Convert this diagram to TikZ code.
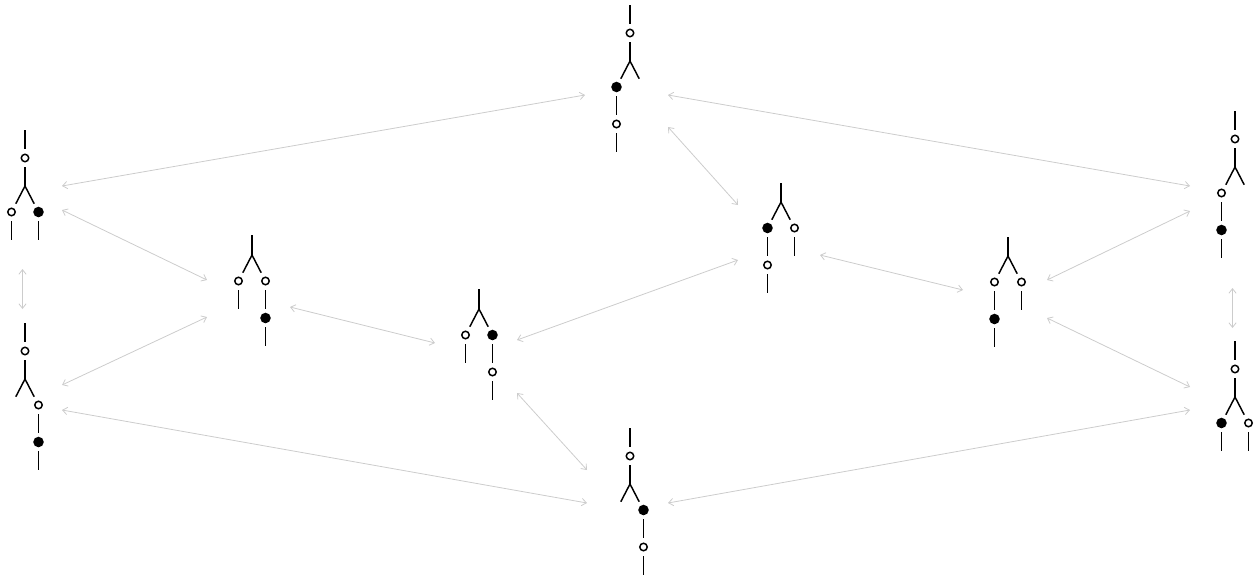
\documentclass[tikz,border=0pt]{standalone}
\usetikzlibrary{arrows.meta}
\tikzset{
  wire/.style={line width=1.1pt, black},
  oc/.style={circle, draw=black, line width=1.1pt, minimum size=5.6pt, inner sep=0pt, outer sep=4.2pt},
  fc/.style={circle, fill=black, minimum size=7.9pt, inner sep=0pt, outer sep=3.06pt},
  gh/.style={circle, minimum size=5.6pt, inner sep=0pt, outer sep=4.2pt},
  link/.style={{Straight Barb[length=3.5pt,width=5.5pt]}-{Straight Barb[length=3.5pt,width=5.5pt]}, draw=gray!40, line width=0.6pt},
}
\begin{document}
\begin{tikzpicture}[x=0.75pt, y=-0.75pt]
\useasboundingbox (0,0) rectangle (1257,579);

% ---------- Top diagram
\coordinate (T0) at (630,5);
\node[oc] (T1) at (630,33) {};
\coordinate (Tb) at (630,61);
\node[fc] (TL) at (616.5,87) {};
\node[oc] (TL2) at (616.5,124) {};
\coordinate (TL3) at (616.5,152);
\node[gh] (TR) at (643.5,87) {};
\draw[wire] (T0) -- (T1); \draw[wire] (T1) -- (Tb);
\draw[wire] (Tb) -- (TL); \draw[wire] (Tb) -- (TR);
\draw[wire] (TL) -- (TL2); \draw[wire] (TL2) -- (TL3);

% ---------- Left 1
\coordinate (A0) at (25,130);
\node[oc] (A1) at (25,158) {};
\coordinate (Ab) at (25,186);
\node[oc] (AL) at (11.5,212) {};
\node[fc] (AR) at (38.5,212) {};
\coordinate (ALe) at (11.5,240);
\coordinate (ARe) at (38.5,240);
\draw[wire] (A0) -- (A1); \draw[wire] (A1) -- (Ab);
\draw[wire] (Ab) -- (AL); \draw[wire] (Ab) -- (AR);
\draw[wire] (AL) -- (ALe); \draw[wire] (AR) -- (ARe);

% ---------- Left 2
\coordinate (C0) at (25,323);
\node[oc] (C1) at (25,351) {};
\coordinate (Cb) at (25,379);
\node[gh] (CL) at (11.5,405) {};
\node[oc] (CR) at (38.5,405) {};
\node[fc] (CR2) at (38.5,442) {};
\coordinate (CR3) at (38.5,470);
\draw[wire] (C0) -- (C1); \draw[wire] (C1) -- (Cb);
\draw[wire] (Cb) -- (CL); \draw[wire] (Cb) -- (CR);
\draw[wire] (CR) -- (CR2); \draw[wire] (CR2) -- (CR3);

% ---------- Mid-left
\coordinate (M0) at (252,235);
\coordinate (Mb) at (252,255);
\node[oc] (ML) at (238.5,281) {};
\coordinate (MLe) at (238.5,309);
\node[oc] (MR) at (265.5,281) {};
\node[fc] (MR2) at (265.5,318) {};
\coordinate (MR3) at (265.5,346);
\draw[wire] (M0) -- (Mb);
\draw[wire] (Mb) -- (ML); \draw[wire] (Mb) -- (MR);
\draw[wire] (ML) -- (MLe);
\draw[wire] (MR) -- (MR2); \draw[wire] (MR2) -- (MR3);

% ---------- Centre-left
\coordinate (N0) at (479,289);
\coordinate (Nb) at (479,309);
\node[oc] (NL) at (465.5,335) {};
\coordinate (NLe) at (465.5,363);
\node[fc] (NR) at (492.5,335) {};
\node[oc] (NR2) at (492.5,372) {};
\coordinate (NR3) at (492.5,400);
\draw[wire] (N0) -- (Nb);
\draw[wire] (Nb) -- (NL); \draw[wire] (Nb) -- (NR);
\draw[wire] (NL) -- (NLe);
\draw[wire] (NR) -- (NR2); \draw[wire] (NR2) -- (NR3);

% ---------- Centre-right
\coordinate (P0) at (781,183);
\coordinate (Pb) at (781,202);
\node[fc] (PL) at (767.5,228) {};
\node[oc] (PL2) at (767.5,265) {};
\coordinate (PL3) at (767.5,293);
\node[oc] (PR) at (794.5,228) {};
\coordinate (PRe) at (794.5,256);
\draw[wire] (P0) -- (Pb);
\draw[wire] (Pb) -- (PL); \draw[wire] (Pb) -- (PR);
\draw[wire] (PL) -- (PL2); \draw[wire] (PL2) -- (PL3);
\draw[wire] (PR) -- (PRe);

% ---------- Right-mid
\coordinate (Q0) at (1008,237);
\coordinate (Qb) at (1008,256);
\node[oc] (QL) at (994.5,282) {};
\node[fc] (QL2) at (994.5,319) {};
\coordinate (QL3) at (994.5,347);
\node[oc] (QR) at (1021.5,282) {};
\coordinate (QRe) at (1021.5,310);
\draw[wire] (Q0) -- (Qb);
\draw[wire] (Qb) -- (QL); \draw[wire] (Qb) -- (QR);
\draw[wire] (QL) -- (QL2); \draw[wire] (QL2) -- (QL3);
\draw[wire] (QR) -- (QRe);

% ---------- Right 1
\coordinate (R0) at (1235,111);
\node[oc] (R1) at (1235,139) {};
\coordinate (Rb) at (1235,167);
\node[oc] (RL) at (1221.5,193) {};
\node[fc] (RL2) at (1221.5,230) {};
\coordinate (RL3) at (1221.5,258);
\node[gh] (RR) at (1248.5,193) {};
\draw[wire] (R0) -- (R1); \draw[wire] (R1) -- (Rb);
\draw[wire] (Rb) -- (RL); \draw[wire] (Rb) -- (RR);
\draw[wire] (RL) -- (RL2); \draw[wire] (RL2) -- (RL3);

% ---------- Right 2
\coordinate (S0) at (1235,341);
\node[oc] (S1) at (1235,369) {};
\coordinate (Sb) at (1235,397);
\node[fc] (SL) at (1221.5,423) {};
\coordinate (SLe) at (1221.5,451);
\node[oc] (SR) at (1248.5,423) {};
\coordinate (SRe) at (1248.5,451);
\draw[wire] (S0) -- (S1); \draw[wire] (S1) -- (Sb);
\draw[wire] (Sb) -- (SL); \draw[wire] (Sb) -- (SR);
\draw[wire] (SL) -- (SLe); \draw[wire] (SR) -- (SRe);

% ---------- Bottom
\coordinate (B0) at (630,428);
\node[oc] (B1) at (630,456) {};
\coordinate (Bb) at (630,484);
\node[gh] (BL) at (616.5,510) {};
\node[fc] (BR) at (643.5,510) {};
\node[oc] (BR2) at (643.5,547) {};
\coordinate (BR3) at (643.5,575);
\draw[wire] (B0) -- (B1); \draw[wire] (B1) -- (Bb);
\draw[wire] (Bb) -- (BL); \draw[wire] (Bb) -- (BR);
\draw[wire] (BR) -- (BR2); \draw[wire] (BR2) -- (BR3);

% ---------- Arrow end points
\coordinate (e1a) at (585,95);   \coordinate (e1b) at (62,186);
\coordinate (e2a) at (668,95);   \coordinate (e2b) at (1190,186);
\coordinate (e3a) at (668,127);  \coordinate (e3b) at (738,205);
\coordinate (e4a) at (62,210);   \coordinate (e4b) at (207,280);
\coordinate (e5a) at (22.5,269); \coordinate (e5b) at (22.5,309);
\coordinate (e6a) at (62,385);   \coordinate (e6b) at (207,317);
\coordinate (e7a) at (62,410);   \coordinate (e7b) at (587,503);
\coordinate (e8a) at (290,307);  \coordinate (e8b) at (435,343);
\coordinate (e9a) at (517,340);  \coordinate (e9b) at (738,260);
\coordinate (e10a) at (517,393); \coordinate (e10b) at (587,470);
\coordinate (e11a) at (820,255); \coordinate (e11b) at (963,290);
\coordinate (e12a) at (1047,280); \coordinate (e12b) at (1190,211);
\coordinate (e13a) at (1047,318); \coordinate (e13b) at (1190,387);
\coordinate (e14a) at (1232.5,288); \coordinate (e14b) at (1232.5,328);
\coordinate (e15a) at (668,503); \coordinate (e15b) at (1190,410);

\foreach \i in {1,...,15} { \draw[link] (e\i a) -- (e\i b); }
\end{tikzpicture}
\end{document}
